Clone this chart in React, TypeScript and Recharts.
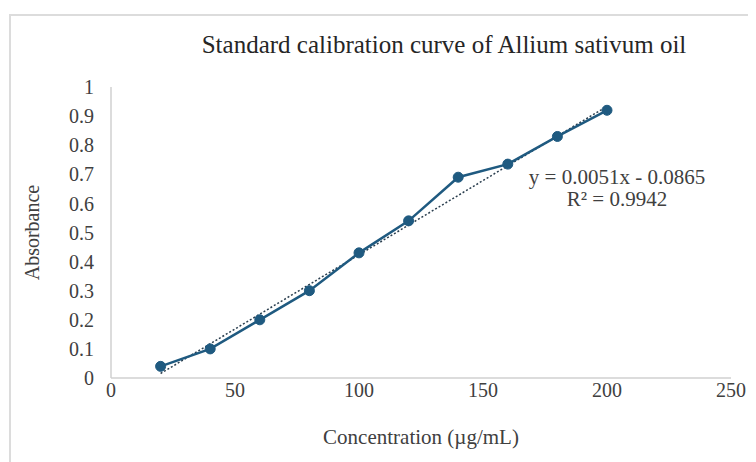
import React from "react";
import { LineChart, Line, XAxis, YAxis, ReferenceLine } from "recharts";

const concentrations = [20, 40, 60, 80, 100, 120, 140, 160, 180, 200];
const absorbances = [0.04, 0.1, 0.2, 0.3, 0.43, 0.54, 0.69, 0.735, 0.83, 0.92];
const xTicks = [0, 50, 100, 150, 200, 250];
const yTicks = [0, 0.1, 0.2, 0.3, 0.4, 0.5, 0.6, 0.7, 0.8, 0.9, 1];
const trendStart = { x: 20, y: 0.0155 };
const trendEnd = { x: 200, y: 0.9335 };
const equationText = "y = 0.0051x - 0.0865";
const r2Text = "R² = 0.9942";
const titleText = "Standard calibration curve of Allium sativum oil";

const data = concentrations.map((c, i) => ({ x: c, y: absorbances[i] }));

const SERIF = '"Liberation Serif", "Times New Roman", serif';
const LINE_COLOR = "#1f5a80";
const TEXT_COLOR = "#404040";

const fmtY = (v: number) => (v === 0 ? "0" : v === 1 ? "1" : v.toFixed(1));

export default function App() {
  return (
    <div style={{ position: "relative", width: 748, height: 454, fontFamily: SERIF }}>
      <div
        style={{
          position: "absolute",
          left: 1,
          top: 6,
          width: 760,
          height: 460,
          border: "2px solid #dcdcdc",
          boxSizing: "border-box",
        }}
      />
      <div
        style={{
          position: "absolute",
          left: 436 - 300,
          top: 22,
          width: 600,
          textAlign: "center",
          fontSize: 25,
          lineHeight: "30px",
          color: "#262626",
          fontFamily: SERIF,
          whiteSpace: "nowrap",
        }}
      >
        {titleText}
      </div>
      <div
        style={{
          position: "absolute",
          left: 609 - 120,
          top: 158,
          width: 240,
          textAlign: "center",
          fontSize: 21,
          lineHeight: "22px",
          color: TEXT_COLOR,
          fontFamily: SERIF,
          whiteSpace: "nowrap",
        }}
      >
        <div>{equationText}</div>
        <div>{r2Text}</div>
      </div>
      <LineChart
        width={748}
        height={454}
        data={data}
        margin={{ top: 79, right: 25, bottom: 34, left: 43 }}
        style={{ position: "absolute", left: 0, top: 0 }}
      >
        <XAxis
          dataKey="x"
          type="number"
          domain={[0, 250]}
          ticks={xTicks}
          tickLine={false}
          tickSize={0}
          tickMargin={5}
          height={50}
          axisLine={{ stroke: "#d0d0d0", strokeWidth: 1.5 }}
          tick={{ fill: TEXT_COLOR, fontSize: 20, fontFamily: SERIF }}
          label={{
            value: "Concentration (µg/mL)",
            position: "insideBottom",
            offset: -16,
            fill: TEXT_COLOR,
            fontSize: 21,
            fontFamily: SERIF,
          }}
        />
        <YAxis
          dataKey="y"
          type="number"
          domain={[0, 1]}
          ticks={yTicks}
          tickFormatter={fmtY}
          tickLine={false}
          tickSize={0}
          tickMargin={17}
          width={60}
          axisLine={{ stroke: "#d0d0d0", strokeWidth: 1.5 }}
          tick={{ fill: TEXT_COLOR, fontSize: 20, fontFamily: SERIF }}
          label={{
            content: (props: any) => {
              const vb = props.viewBox || { x: 43, y: 79, width: 60, height: 291 };
              const cx = vb.x - 19;
              const cy = vb.y + vb.height / 2;
              return (
                <text
                  x={cx}
                  y={cy}
                  transform={`rotate(-90, ${cx}, ${cy})`}
                  textAnchor="middle"
                  dominantBaseline="central"
                  fill={TEXT_COLOR}
                  fontSize={20}
                  fontFamily={SERIF}
                >
                  Absorbance
                </text>
              );
            },
          }}
        />
        <ReferenceLine
          segment={[trendStart, trendEnd]}
          stroke="#2b3f4f"
          strokeWidth={1.5}
          strokeDasharray="2 2"
          ifOverflow="visible"
        />
        <Line
          type="linear"
          dataKey="y"
          stroke={LINE_COLOR}
          strokeWidth={2.5}
          dot={{ r: 5, fill: LINE_COLOR, stroke: LINE_COLOR, strokeWidth: 1 }}
          activeDot={false}
          isAnimationActive={false}
        />
      </LineChart>
    </div>
  );
}
